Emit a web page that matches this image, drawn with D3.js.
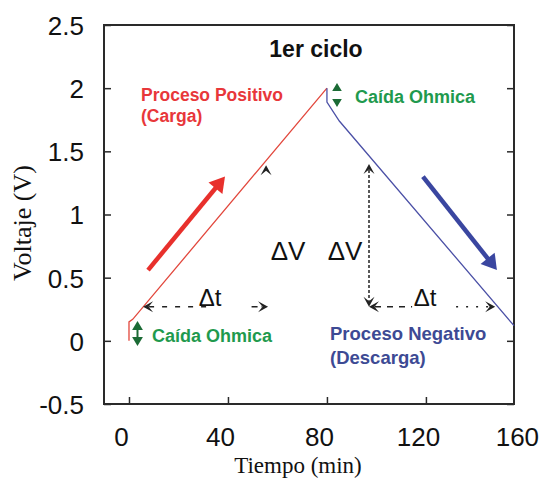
<!DOCTYPE html>
<html>
<head>
<meta charset="utf-8">
<script src="https://cdn.jsdelivr.net/npm/d3@7/dist/d3.min.js"></script>
<style>
  body { margin: 0; background: #fff; }
  svg text { font-family: "Liberation Sans", Arial, sans-serif; }
</style>
</head>
<body>
<div id="chart"></div>
<script>
// curve data (tiempo en min, voltaje en V)
const cargaT = [0, 0, 1.5, 80];
const cargaV = [0, 0.15, 0.17, 2.0];
const descargaT = [80, 80, 85, 155.6];
const descargaV = [2.0, 1.89, 1.74, 0.12];

const xTicks = [0, 40, 80, 120, 160];
const yTicks = [-0.5, 0, 0.5, 1, 1.5, 2, 2.5];

// annotation anchors (data units)
const deltaT = [[5.7, 56.2, 0.27], [97, 148, 0.27]];
const deltaVline = [97, 0.27, 1.40];
const deltaVleftHead = [55.4, 1.39];
const bigArrows = [[7.7, 0.56, 38.8, 1.30, "#e8302c"], [118.8, 1.30, 148.7, 0.56, "#3a46a0"]];

const width = 541, height = 478;
const margin = {left: 104, right: 27, top: 25, bottom: 74};

const svg = d3.select("#chart").append("svg")
    .attr("width", width).attr("height", height);

const x = d3.scaleLinear().domain([-10.1, 155.6]).range([margin.left, width - margin.right]);
const y = d3.scaleLinear().domain([-0.5, 2.5]).range([height - margin.bottom, margin.top]);

const toPts = (ts, vs) => ts.map((t, i) => [t, vs[i]]);
const line = d3.line().x(d => x(d[0])).y(d => y(d[1]));

// frame
svg.append("rect")
    .attr("x", x.range()[0]).attr("y", y.range()[1])
    .attr("width", x.range()[1] - x.range()[0])
    .attr("height", y.range()[0] - y.range()[1])
    .attr("fill", "none").attr("stroke", "#2a2a2a").attr("stroke-width", 2);

// tick marks (inward)
const inX = xTicks.filter(t => t >= x.domain()[0] && t <= x.domain()[1]);
svg.append("g").attr("transform", `translate(0,${y.range()[0]})`)
    .call(d3.axisBottom(x).tickValues(inX).tickSize(-7).tickFormat(""))
    .call(g => g.select(".domain").remove())
    .call(g => g.selectAll("line").attr("stroke", "#2a2a2a").attr("stroke-width", 1.5));
svg.append("g").attr("transform", `translate(${x.range()[0]},0)`)
    .call(d3.axisLeft(y).tickValues(yTicks).tickSize(-7).tickFormat(""))
    .call(g => g.select(".domain").remove())
    .call(g => g.selectAll("line").attr("stroke", "#2a2a2a").attr("stroke-width", 1.5));
svg.append("g").attr("transform", `translate(${x.range()[1]},0)`)
    .call(d3.axisRight(y).tickValues(yTicks).tickSize(-7).tickFormat(""))
    .call(g => g.select(".domain").remove())
    .call(g => g.selectAll("line").attr("stroke", "#2a2a2a").attr("stroke-width", 1.5));

// tick labels
svg.append("g").attr("transform", `translate(0,${y.range()[0]})`)
    .call(d3.axisBottom(x).tickValues(xTicks).tickSize(0).tickPadding(0))
    .call(g => g.select(".domain").remove())
    .call(g => g.selectAll("text")
        .attr("y", 42).attr("dy", 0).attr("dx", -8)
        .attr("font-size", "26px").attr("fill", "#111")
        .style("font-family", "'Liberation Sans', Arial, sans-serif"));
svg.append("g").attr("transform", `translate(${x.range()[0]},0)`)
    .call(d3.axisLeft(y).tickValues(yTicks).tickSize(0).tickPadding(20).tickFormat(d => String(d)))
    .call(g => g.select(".domain").remove())
    .call(g => g.selectAll("text")
        .attr("dy", "0.36em")
        .attr("font-size", "26px").attr("fill", "#111")
        .style("font-family", "'Liberation Sans', Arial, sans-serif"));

// axis titles
svg.append("text")
    .attr("x", 298).attr("y", 473)
    .attr("text-anchor", "middle")
    .style("font-family", "'Liberation Serif', 'Times New Roman', serif")
    .attr("font-size", "23px").attr("fill", "#111")
    .text("Tiempo (min)");
svg.append("text")
    .attr("transform", "translate(31,223) rotate(-90)")
    .attr("text-anchor", "middle")
    .style("font-family", "'Liberation Serif', 'Times New Roman', serif")
    .attr("font-size", "26px").attr("fill", "#111")
    .text("Voltaje (V)");

// curves
svg.append("path").datum(toPts(cargaT, cargaV))
    .attr("d", line).attr("fill", "none").attr("stroke", "#e2473c").attr("stroke-width", 1.3);
svg.append("path").datum(toPts(descargaT, descargaV))
    .attr("d", line).attr("fill", "none").attr("stroke", "#4b50a6").attr("stroke-width", 1.3);

// arrow helpers
function chevron(px, py, ang, size, color) {
    const s = size;
    svg.append("path")
        .attr("d", `M0,0 L${-s},${-s * 0.55} L${-s * 0.55},0 L${-s},${s * 0.55} Z`)
        .attr("transform", `translate(${px},${py}) rotate(${ang})`)
        .attr("fill", color);
}
function tri(px, py, ang, size, color) {
    const s = size;
    svg.append("path")
        .attr("d", `M0,0 L${-s},${-s * 0.6} L${-s},${s * 0.6} Z`)
        .attr("transform", `translate(${px},${py}) rotate(${ang})`)
        .attr("fill", color);
}

// big process arrows
bigArrows.forEach(([t0, v0, t1, v1, c]) => {
    const x0 = x(t0), y0 = y(v0), x1 = x(t1), y1 = y(v1);
    const ang = Math.atan2(y1 - y0, x1 - x0);
    const hs = 15;
    svg.append("line")
        .attr("x1", x0).attr("y1", y0)
        .attr("x2", x1 - Math.cos(ang) * hs * 0.7).attr("y2", y1 - Math.sin(ang) * hs * 0.7)
        .attr("stroke", c).attr("stroke-width", 4.5);
    tri(x1, y1, ang * 180 / Math.PI, hs, c);
});

// delta t dotted lines
const dk = "#222";
deltaT.forEach(([t0, t1, v], i) => {
    const x0 = x(t0), x1 = x(t1), yy = y(v);
    const mid = (x0 + x1) / 2 + (i === 0 ? 22 : 0);
    svg.append("line").attr("x1", x0 + 6).attr("x2", mid - 20).attr("y1", yy).attr("y2", yy)
        .attr("stroke", dk).attr("stroke-width", 1.5).attr("stroke-dasharray", i === 0 ? "5,8" : "6,6");
    svg.append("line").attr("x1", mid + 24).attr("x2", x1 - 6).attr("y1", yy).attr("y2", yy)
        .attr("stroke", dk).attr("stroke-width", 1.5).attr("stroke-dasharray", i === 0 ? "6,4" : "2,8");
    chevron(x0, yy, 180, 10, dk);
    chevron(x1, yy, 0, 10, dk);
    svg.append("text")
        .attr("x", i === 0 ? 210 : 425).attr("y", yy - 1)
        .attr("text-anchor", "middle")
        .attr("font-size", "24px").attr("fill", "#111")
        .text("\u0394t");
});

// delta V vertical
const [tv, vv0, vv1] = deltaVline;
svg.append("line")
    .attr("x1", x(tv)).attr("x2", x(tv)).attr("y1", y(vv1) + 6).attr("y2", y(vv0) - 6)
    .attr("stroke", dk).attr("stroke-width", 1.5).attr("stroke-dasharray", "3,2");
chevron(x(tv), y(vv1), -90, 10, dk);
chevron(x(tv), y(vv0), 90, 10, dk);
chevron(x(deltaVleftHead[0]), y(deltaVleftHead[1]), -90, 10, dk);

svg.append("text").attr("x", 288).attr("y", 260).attr("text-anchor", "middle")
    .attr("font-size", "26px").attr("fill", "#111").text("\u0394V");
svg.append("text").attr("x", 345).attr("y", 260).attr("text-anchor", "middle")
    .attr("font-size", "26px").attr("fill", "#111").text("\u0394V");

// ohmic drop green arrows
const gd = "#1b6b35";
tri(337, 83, -90, 8, gd);
tri(337, 107, 90, 8, gd);
svg.append("line").attr("x1", 137.5).attr("x2", 137.5).attr("y1", 328).attr("y2", 339)
    .attr("stroke", gd).attr("stroke-width", 2);
tri(137.5, 321, -90, 9, gd);
tri(137.5, 346, 90, 9, gd);

// labels
function label(txt, lx, ly, color, size, weight) {
    svg.append("text").attr("x", lx).attr("y", ly)
        .attr("font-size", size).attr("font-weight", weight).attr("fill", color)
        .text(txt);
}
svg.append("text").attr("x", 316).attr("y", 57).attr("text-anchor", "middle")
    .attr("font-size", "23px").attr("font-weight", "bold").attr("fill", "#111")
    .text("1er ciclo");
label("Proceso Positivo", 141, 101, "#e8373a", "17.5px", "bold");
label("(Carga)", 141, 122, "#e8373a", "17.5px", "bold");
label("Caída Ohmica", 355, 103, "#1f9a4e", "18px", "bold");
label("Caída Ohmica", 152, 342, "#1f9a4e", "18px", "bold");
label("Proceso Negativo", 330, 340, "#3d4a94", "18.5px", "bold");
label("(Descarga)", 330, 364, "#3d4a94", "18.5px", "bold");
</script>
</body>
</html>
